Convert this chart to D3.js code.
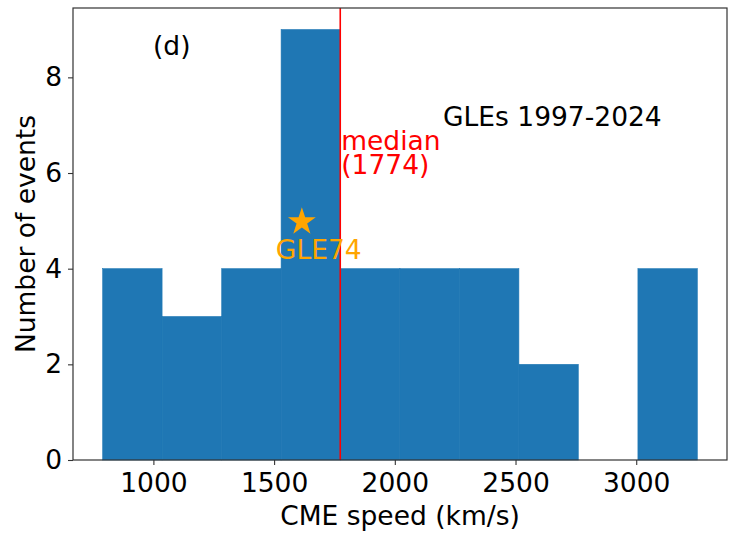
<!DOCTYPE html>
<html>
<head>
<meta charset="utf-8">
<script src="https://cdn.jsdelivr.net/npm/d3@7"></script>
<style>
  body { margin: 0; background: #fff; }
  svg text { font-family: "DejaVu Sans", sans-serif; }
</style>
</head>
<body>
<div id="chart"></div>
<script>
// histogram of CME speeds
const binEdges = [790, 1036, 1283, 1529, 1775, 2021, 2268, 2514, 2760, 3007, 3253];
const counts = [4, 3, 4, 9, 4, 4, 4, 2, 0, 4];
const xTicks = [1000, 1500, 2000, 2500, 3000];
const yTicks = [0, 2, 4, 6, 8];
const medianSpeed = 1774;
const gle74 = { speed: 1615, count: 5, label: 'GLE74' };

const width = 730;
const height = 533;
const margin = { top: 8, right: 3, bottom: 73, left: 73 };
const fontSize = 26.5;

const bins = counts.map((c, i) => ({ x0: binEdges[i], x1: binEdges[i + 1], n: c }));

const x = d3.scaleLinear()
    .domain([667, 3376])
    .range([margin.left, width - margin.right]);
const y = d3.scaleLinear()
    .domain([0, 9.45])
    .range([height - margin.bottom, margin.top]);

const svg = d3.select('#chart')
    .append('svg')
    .attr('width', width)
    .attr('height', height)
    .attr('viewBox', `0,0,${width},${height}`);

// bars (a thin stroke of the same colour hides the seams)
svg.append('g')
    .selectAll('rect')
    .data(bins.filter(d => d.n > 0))
    .join('rect')
    .attr('x', d => x(d.x0))
    .attr('y', d => y(d.n))
    .attr('width', d => x(d.x1) - x(d.x0))
    .attr('height', d => y(0) - y(d.n))
    .style('fill', '#1f77b4')
    .style('stroke', '#1f77b4')
    .style('stroke-width', 0.6);

// median line
svg.append('line')
    .attr('x1', x(medianSpeed))
    .attr('x2', x(medianSpeed))
    .attr('y1', y.range()[0])
    .attr('y2', y.range()[1])
    .style('stroke', '#ff0000')
    .style('stroke-width', 1.6);

// axes
const xAxis = svg.append('g')
    .attr('transform', `translate(0,${y(0)})`)
    .call(d3.axisBottom(x).tickValues(xTicks).tickFormat(d3.format('d')).tickSize(5).tickPadding(8));
const yAxis = svg.append('g')
    .attr('transform', `translate(${margin.left},0)`)
    .call(d3.axisLeft(y).tickValues(yTicks).tickFormat(d3.format('d')).tickSize(5).tickPadding(6));

[xAxis, yAxis].forEach(g => {
    g.select('.domain').remove();
    g.selectAll('line').style('stroke', '#333').style('stroke-width', 1.1);
    g.selectAll('text')
        .style('font-size', fontSize + 'px')
        .style('font-family', '"DejaVu Sans", sans-serif')
        .style('fill', '#000');
});

// frame
svg.append('rect')
    .attr('x', x.range()[0])
    .attr('y', y.range()[1])
    .attr('width', x.range()[1] - x.range()[0])
    .attr('height', y.range()[0] - y.range()[1])
    .style('fill', 'none')
    .style('stroke', '#333')
    .style('stroke-width', 1.2);

// GLE74 star
svg.append('path')
    .attr('d', d3.symbol(d3.symbolStar, 240)())
    .attr('transform', `translate(${[x(gle74.speed), y(gle74.count) + 1]})`)
    .style('fill', '#ffa500');

svg.append('text')
    .attr('x', x(gle74.speed) - 26)
    .attr('y', y(gle74.count) + 38)
    .style('font-size', fontSize + 'px')
    .style('fill', '#ffa500')
    .text(gle74.label);

// median label
svg.append('text')
    .attr('x', x(medianSpeed) + 1)
    .attr('y', 150)
    .style('font-size', fontSize + 'px')
    .style('fill', '#ff0000')
    .text('median');
svg.append('text')
    .attr('x', x(medianSpeed) + 1)
    .attr('y', 174)
    .style('font-size', fontSize + 'px')
    .style('fill', '#ff0000')
    .text(`(${medianSpeed})`);

// annotations
svg.append('text')
    .attr('x', 153)
    .attr('y', 55)
    .style('font-size', fontSize + 'px')
    .text('(d)');

svg.append('text')
    .attr('x', 443)
    .attr('y', 126)
    .style('font-size', fontSize + 'px')
    .text('GLEs 1997-2024');

// axis labels
svg.append('text')
    .attr('x', (x.range()[0] + x.range()[1]) / 2)
    .attr('y', 525)
    .attr('text-anchor', 'middle')
    .style('font-size', fontSize + 'px')
    .text('CME speed (km/s)');

svg.append('text')
    .attr('transform', `translate(35,${(y.range()[0] + y.range()[1]) / 2}) rotate(-90)`)
    .attr('text-anchor', 'middle')
    .style('font-size', fontSize + 'px')
    .text('Number of events');
</script>
</body>
</html>
